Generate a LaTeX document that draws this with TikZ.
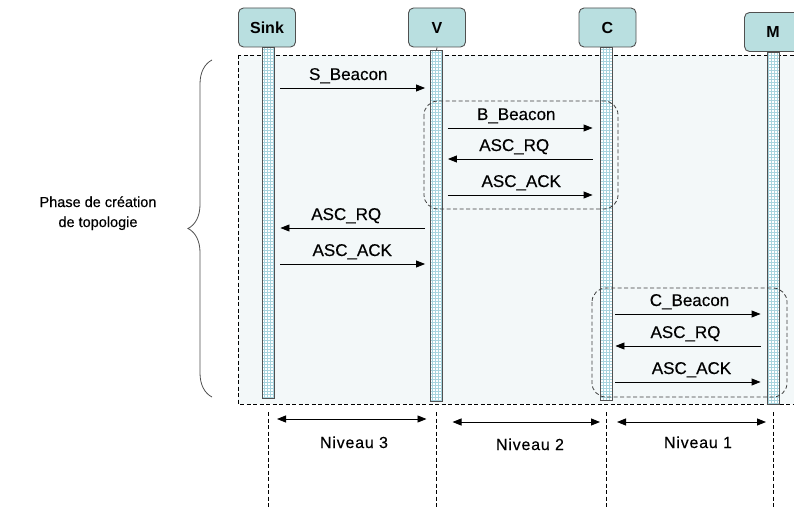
\documentclass[tikz,border=0pt]{standalone}
\usepackage{fontspec}
\setmainfont{Liberation Sans}[FakeBold=0.35]
\newfontfamily\boldish{Liberation Sans Bold}
\newfontfamily\spaced{Liberation Sans}[FakeBold=0.35,LetterSpace=5]
\usetikzlibrary{arrows.meta,patterns,decorations.pathreplacing,calc}
\definecolor{boxfill}{RGB}{185,223,224}
\definecolor{bgfill}{RGB}{243,248,249}
\definecolor{gridc}{RGB}{168,212,222}
\definecolor{edge}{RGB}{80,80,80}
\definecolor{grpedge}{RGB}{60,60,60}
\begin{document}
\begin{tikzpicture}[x=1pt,y=-1pt,
  actor/.style={draw=edge, fill=boxfill, rounded corners=5pt, line width=0.9pt,
    minimum width=57pt, minimum height=39pt, inner sep=0pt,
    font=\fontsize{16}{18}\boldish},
  lifebar/.style={draw=edge, line width=0.9pt, minimum width=12pt, inner sep=0pt,
    preaction={fill=white}, pattern=grid, pattern color=gridc},
  msg/.style={-{Triangle[length=9pt,width=7pt]}, line width=0.9pt},
  dbl/.style={{Triangle[length=9pt,width=7pt]}-{Triangle[length=9pt,width=7pt]}, line width=0.9pt},
  lbl/.style={font=\fontsize{17}{19}\selectfont, inner sep=0pt, anchor=base, yshift=8pt},
  grp/.style={draw=grpedge, dash pattern=on 4pt off 2.5pt, rounded corners=14pt, line width=0.8pt},
  vdash/.style={draw=black, dash pattern=on 4pt off 2.5pt, line width=0.6pt},
  txt/.style={font=\fontsize{16}{18}\spaced, inner sep=0pt, anchor=base},
]
\useasboundingbox (0,0) rectangle (794,508);
\clip (0,0) rectangle (794,508);
\fill[white] (0,0) rectangle (794,508);

% background frame
\path[draw=black, dash pattern=on 4pt off 2.5pt, line width=0.6pt, fill=bgfill] (238,55) rectangle (820,404);

% actors
\node[actor] (sink) at (267,27.5) {Sink};
\node[actor] (v) at (437,27.5) {V};
\node[actor] (c) at (607.5,27.5) {C};
\node[actor] (m) at (773,32) {M};

% lifelines
\node[lifebar, anchor=north, minimum height=351pt] (sinkbar) at (268,47) {};
\node[lifebar, anchor=north, minimum height=351pt] (vbar) at (436.5,50) {};
\node[lifebar, anchor=north, minimum height=353pt] (cbar) at (606,47) {};
\node[lifebar, anchor=north, minimum height=352pt] (mbar) at (773,52) {};
\draw[edge, line width=0.8pt] (v.south) -- (vbar.north);

% groups
\draw[grp] (424,101) rectangle (618,209);
\draw[grp] (592,288) rectangle (787,397);

% messages Sink - V
\draw[msg, shorten <=6pt, shorten >=5pt] (sinkbar.east |- 0,88) -- (vbar.west |- 0,88)
  node[lbl, midway, xshift=-4pt] (m1) {S\_Beacon};
\draw[msg, shorten <=5pt, shorten >=6pt] (vbar.west |- 0,228) -- (sinkbar.east |- 0,228)
  node[lbl, midway, xshift=-6pt] (m5) {ASC\_RQ};
\draw[msg, shorten <=6pt, shorten >=5pt] (sinkbar.east |- 0,264) -- (vbar.west |- 0,264)
  node[lbl, midway] (m6) {ASC\_ACK};

% messages V - C
\draw[msg, shorten <=5pt, shorten >=7pt] (vbar.east |- 0,128) -- (cbar.west |- 0,128)
  node[lbl, midway, xshift=-5pt] (m2) {B\_Beacon};
\draw[msg, shorten <=7pt, shorten >=5pt] (cbar.west |- 0,159) -- (vbar.east |- 0,159)
  node[lbl, midway, xshift=-7pt] (m3) {ASC\_RQ};
\draw[msg, shorten <=5pt, shorten >=7pt] (vbar.east |- 0,195) -- (cbar.west |- 0,195)
  node[lbl, midway] (m4) {ASC\_ACK};

% messages C - M
\draw[msg, shorten <=3pt, shorten >=6pt] (cbar.east |- 0,314) -- (mbar.west |- 0,314)
  node[lbl, midway] (m7) {C\_Beacon};
\draw[msg, shorten <=6pt, shorten >=3pt] (mbar.west |- 0,346) -- (cbar.east |- 0,346)
  node[lbl, midway, xshift=-4pt] (m8) {ASC\_RQ};
\draw[msg, shorten <=3pt, shorten >=6pt] (cbar.east |- 0,382) -- (mbar.west |- 0,382)
  node[lbl, midway, xshift=2pt] (m9) {ASC\_ACK};

% brace and phase label
\draw[decorate, decoration={brace, amplitude=24pt, aspect=0.5}, draw=edge, line width=0.8pt]
  (212,397) -- (212,60);
\node[inner sep=0pt, anchor=base, font=\fontsize{14.5}{18}\selectfont] (ph1) at (98,207) {Phase de création};
\node[inner sep=0pt, anchor=base, font=\fontsize{14.5}{18}\selectfont] (ph2) at (98,227) {de topologie};

% level guides
\coordinate (d1) at (sinkbar.south |- 0,412);
\coordinate (d2) at (vbar.south |- 0,412);
\coordinate (d3) at (cbar.south |- 0,412);
\coordinate (d4) at (mbar.south |- 0,412);
\coordinate (e1) at (sinkbar.south |- 0,512);
\coordinate (e2) at (vbar.south |- 0,512);
\coordinate (e3) at (cbar.south |- 0,512);
\coordinate (e4) at (mbar.south |- 0,512);
\draw[vdash] (d1) -- (e1);
\draw[vdash] (d2) -- (e2);
\draw[vdash] (d3) -- (e3);
\draw[vdash] (d4) -- (e4);

\draw[dbl] ($(d1 |- 0,419)+(9,0)$) -- ($(d2 |- 0,419)+(-10,0)$);
\draw[dbl] ($(d2 |- 0,422)+(16,0)$) -- ($(d3 |- 0,422)+(-6,0)$);
\draw[dbl] ($(d3 |- 0,422)+(11,0)$) -- ($(d4 |- 0,422)+(-7,0)$);

\node[txt] (n3) at (354,448) {Niveau 3};
\node[txt] (n2) at (530,450) {Niveau 2};
\node[txt] (n1) at (698,448) {Niveau 1};
\end{tikzpicture}
\end{document}
